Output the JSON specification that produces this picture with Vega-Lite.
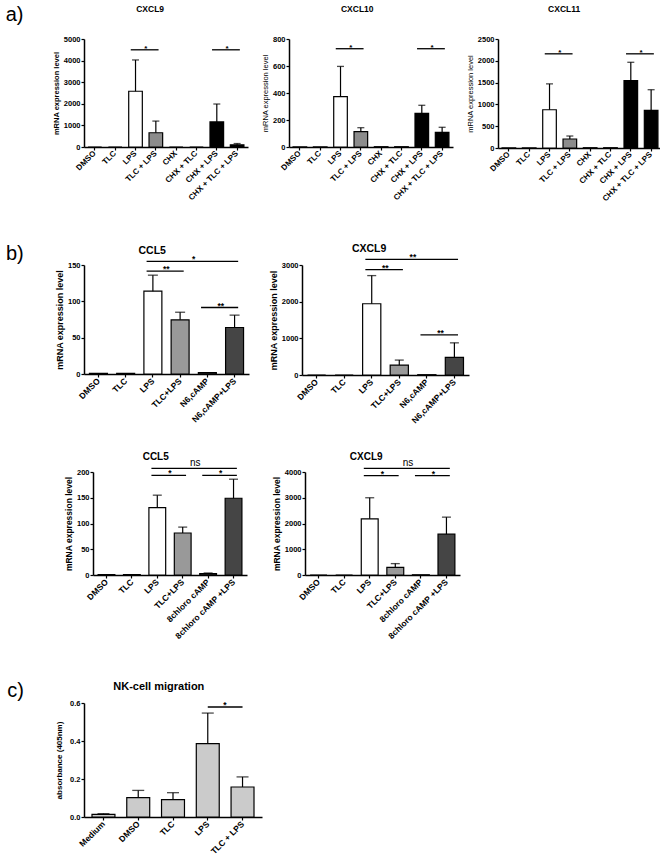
{
"$schema": "https://vega.github.io/schema/vega-lite/v6.json",
"padding": {"left": 5, "top": 4, "right": 2, "bottom": 2},
"background": "white",
"config": {
 "font": "Liberation Sans",
 "view": {"stroke": null},
 "title": {"color": "#000", "fontWeight": "bold", "font": "Liberation Sans"},
 "axis": {"grid": false, "domainColor": "#000", "domainWidth": 1.5, "tickColor": "#000", "tickWidth": 1.2, "tickSize": 3, "labelColor": "#000", "titleColor": "#000", "labelFontWeight": "bold", "titleFontWeight": "bold", "labelPadding": 1, "labelOverlap": false},
 "axisX": {"labelAngle": -45, "labelFontSize": 8, "labelOverlap": false, "labelAlign": "right", "labelBaseline": "middle", "labelPadding": 2},
 "axisY": {"labelFontSize": 7.5, "titleFontSize": 7.5, "titlePadding": 3, "format": "d", "labelOverlap": false, "labelSeparation": 0},
 "bar": {"stroke": "#000", "strokeWidth": 1.2},
 "rule": {"color": "#000", "strokeWidth": 1.2},
 "tick": {"color": "#000", "thickness": 1.3},
 "text": {"color": "#000"}
},
"datasets": {
 "a1": [
  {"cond": "DMSO", "mean": 0}, {"cond": "TLC", "mean": 0},
  {"cond": "LPS", "mean": 2580, "upper": 4030}, {"cond": "TLC + LPS", "mean": 660, "upper": 1200},
  {"cond": "CHX", "mean": 0}, {"cond": "CHX + TLC", "mean": 0},
  {"cond": "CHX + LPS", "mean": 1160, "upper": 1990}, {"cond": "CHX + TLC + LPS", "mean": 100, "upper": 160}],
 "a1s": [{"from": "LPS", "to": "TLC + LPS", "at": "LPS", "y": 4500, "label": "*"}, {"from": "CHX + LPS", "to": "CHX + TLC + LPS", "at": "CHX + LPS", "y": 4500, "label": "*"}],
 "a2": [
  {"cond": "DMSO", "mean": 2}, {"cond": "TLC", "mean": 2},
  {"cond": "LPS", "mean": 373, "upper": 597}, {"cond": "TLC + LPS", "mean": 114, "upper": 143},
  {"cond": "CHX", "mean": 2}, {"cond": "CHX + TLC", "mean": 2},
  {"cond": "CHX + LPS", "mean": 249, "upper": 309}, {"cond": "CHX + TLC + LPS", "mean": 109, "upper": 146}],
 "a2s": [{"from": "LPS", "to": "TLC + LPS", "at": "LPS", "y": 728, "label": "*"}, {"from": "CHX + LPS", "to": "CHX + TLC + LPS", "at": "CHX + LPS", "y": 728, "label": "*"}],
 "a3": [
  {"cond": "DMSO", "mean": 4}, {"cond": "TLC", "mean": 6},
  {"cond": "LPS", "mean": 877, "upper": 1471}, {"cond": "TLC + LPS", "mean": 206, "upper": 275},
  {"cond": "CHX", "mean": 6}, {"cond": "CHX + TLC", "mean": 6},
  {"cond": "CHX + LPS", "mean": 1544, "upper": 1966}, {"cond": "CHX + TLC + LPS", "mean": 865, "upper": 1337}],
 "a3s": [{"from": "LPS", "to": "TLC + LPS", "at": "LPS", "y": 2160, "label": "*"}, {"from": "CHX + LPS", "to": "CHX + TLC + LPS", "at": "CHX + LPS", "y": 2160, "label": "*"}],
 "b1": [
  {"cond": "DMSO", "mean": 1}, {"cond": "TLC", "mean": 1},
  {"cond": "LPS", "mean": 114, "upper": 136}, {"cond": "TLC+LPS", "mean": 74.5, "upper": 85},
  {"cond": "N6,cAMP", "mean": 1.8}, {"cond": "N6,cAMP+LPS", "mean": 64, "upper": 81}],
 "b1s": [{"from": "LPS", "to": "N6,cAMP+LPS", "at": "TLC+LPS", "y": 155, "label": "*"}, {"from": "LPS", "to": "TLC+LPS", "at": "LPS", "y": 141.5, "label": "**"}, {"from": "N6,cAMP", "to": "N6,cAMP+LPS", "at": "N6,cAMP", "y": 91.5, "label": "**"}],
 "b2": [
  {"cond": "DMSO", "mean": 0}, {"cond": "TLC", "mean": 0},
  {"cond": "LPS", "mean": 1943, "upper": 2711}, {"cond": "TLC+LPS", "mean": 271, "upper": 407},
  {"cond": "N6,cAMP", "mean": 8}, {"cond": "N6,cAMP+LPS", "mean": 479, "upper": 877}],
 "b2s": [{"from": "LPS", "to": "N6,cAMP+LPS", "at": "TLC+LPS", "y": 3155, "label": "**"}, {"from": "LPS", "to": "TLC+LPS", "at": "LPS", "y": 2873, "label": "**"}, {"from": "N6,cAMP", "to": "N6,cAMP+LPS", "at": "N6,cAMP", "y": 1093, "label": "**"}],
 "b3": [
  {"cond": "DMSO", "mean": 0.8}, {"cond": "TLC", "mean": 0.8},
  {"cond": "LPS", "mean": 131, "upper": 155}, {"cond": "TLC+LPS", "mean": 81.6, "upper": 93},
  {"cond": "8chloro cAMP", "mean": 2.6, "upper": 3.9}, {"cond": "8chloro cAMP +LPS", "mean": 149, "upper": 186}],
 "b3s": [{"from": "LPS", "to": "8chloro cAMP +LPS", "at": "TLC+LPS", "y": 207, "label": "ns"}, {"from": "LPS", "to": "TLC+LPS", "at": "LPS", "y": 193.5, "label": "*"}, {"from": "8chloro cAMP", "to": "8chloro cAMP +LPS", "at": "8chloro cAMP", "y": 193.5, "label": "*"}],
 "b4": [
  {"cond": "DMSO", "mean": 0}, {"cond": "TLC", "mean": 0},
  {"cond": "LPS", "mean": 2182, "upper": 3000}, {"cond": "TLC+LPS", "mean": 299, "upper": 442},
  {"cond": "8chloro cAMP", "mean": 8}, {"cond": "8chloro cAMP +LPS", "mean": 1584, "upper": 2247}],
 "b4s": [{"from": "LPS", "to": "8chloro cAMP +LPS", "at": "TLC+LPS", "y": 4143, "label": "ns"}, {"from": "LPS", "to": "TLC+LPS", "at": "LPS", "y": 3857, "label": "*"}, {"from": "8chloro cAMP", "to": "8chloro cAMP +LPS", "at": "8chloro cAMP", "y": 3857, "label": "*"}],
 "c": [
  {"cond": "Medium", "mean": 0.014, "upper": 0.0175}, {"cond": "DMSO", "mean": 0.102, "upper": 0.14},
  {"cond": "TLC", "mean": 0.091, "upper": 0.128}, {"cond": "LPS", "mean": 0.386, "upper": 0.547},
  {"cond": "TLC + LPS", "mean": 0.158, "upper": 0.211}],
 "cs": [{"from": "LPS", "to": "TLC + LPS", "at": "LPS", "y": 0.579, "label": "*"}]
},
"spacing": 40,
"resolve": {"scale": {"fill": "independent"}},
"vconcat": [
 {
  "title": {"text": "a)", "orient": "left", "anchor": "end", "angle": 0, "align": "right", "baseline": "top", "fontSize": 20, "fontWeight": "normal", "offset": 11},
  "spacing": 13,
  "resolve": {"scale": {"fill": "independent"}},
  "hconcat": [
   {
    "width": 164, "height": 108,
    "title": {"text": "CXCL9", "fontSize": 8.5, "offset": 22, "frame": "bounds"},
    "layer": [
     {"data": {"name": "a1"}, "mark": {"type": "bar"},
      "encoding": {
       "x": {"field": "cond", "type": "nominal", "title": null, "scale": {"domain": ["DMSO", "TLC", "LPS", "TLC + LPS", "CHX", "CHX + TLC", "CHX + LPS", "CHX + TLC + LPS"], "paddingInner": 0.33, "paddingOuter": 0.2}},
       "y": {"field": "mean", "type": "quantitative", "title": "mRNA expression level", "scale": {"domain": [0, 5000], "nice": false}, "axis": {"values": [0, 1000, 2000, 3000, 4000, 5000], "tickCount": 6, "labelOverlap": false, "format": "d"}},
       "fill": {"field": "cond", "type": "nominal", "legend": null, "scale": {"domain": ["DMSO", "TLC", "LPS", "TLC + LPS", "CHX", "CHX + TLC", "CHX + LPS", "CHX + TLC + LPS"], "range": ["#ffffff", "#ffffff", "#ffffff", "#8c8c8c", "#000000", "#000000", "#000000", "#000000"]}}}},
     {"data": {"name": "a1"}, "mark": {"type": "rule"},
      "encoding": {"x": {"field": "cond", "type": "nominal"}, "y": {"field": "mean", "type": "quantitative"}, "y2": {"field": "upper"}}},
     {"data": {"name": "a1"}, "mark": {"type": "tick", "size": 7},
      "encoding": {"x": {"field": "cond", "type": "nominal"}, "y": {"field": "upper", "type": "quantitative"}}},
     {"data": {"name": "a1s"}, "mark": {"type": "rule", "strokeWidth": 1.3},
      "encoding": {"x": {"field": "from", "type": "nominal", "bandPosition": 0.15}, "x2": {"field": "to", "bandPosition": 0.7}, "y": {"field": "y", "type": "quantitative"}}},
     {"data": {"name": "a1s"}, "mark": {"type": "text", "fontSize": 8, "fontWeight": "bold", "baseline": "alphabetic", "dy": 1},
      "encoding": {"x": {"field": "at", "type": "nominal", "bandPosition": 1.25}, "y": {"field": "y", "type": "quantitative"}, "text": {"field": "label"}}}
    ]
   },
   {
    "width": 164, "height": 108,
    "title": {"text": "CXCL10", "fontSize": 8.5, "offset": 22, "frame": "bounds"},
    "layer": [
     {"data": {"name": "a2"}, "mark": {"type": "bar"},
      "encoding": {
       "x": {"field": "cond", "type": "nominal", "title": null, "scale": {"domain": ["DMSO", "TLC", "LPS", "TLC + LPS", "CHX", "CHX + TLC", "CHX + LPS", "CHX + TLC + LPS"], "paddingInner": 0.33, "paddingOuter": 0.2}},
       "y": {"field": "mean", "type": "quantitative", "title": "mRNA expression level", "scale": {"domain": [0, 800], "nice": false}, "axis": {"values": [0, 200, 400, 600, 800], "tickCount": 5, "labelOverlap": false, "format": "d", "titleFontWeight": "normal"}},
       "fill": {"field": "cond", "type": "nominal", "legend": null, "scale": {"domain": ["DMSO", "TLC", "LPS", "TLC + LPS", "CHX", "CHX + TLC", "CHX + LPS", "CHX + TLC + LPS"], "range": ["#ffffff", "#ffffff", "#ffffff", "#8c8c8c", "#000000", "#000000", "#000000", "#000000"]}}}},
     {"data": {"name": "a2"}, "mark": {"type": "rule"},
      "encoding": {"x": {"field": "cond", "type": "nominal"}, "y": {"field": "mean", "type": "quantitative"}, "y2": {"field": "upper"}}},
     {"data": {"name": "a2"}, "mark": {"type": "tick", "size": 7},
      "encoding": {"x": {"field": "cond", "type": "nominal"}, "y": {"field": "upper", "type": "quantitative"}}},
     {"data": {"name": "a2s"}, "mark": {"type": "rule", "strokeWidth": 1.3},
      "encoding": {"x": {"field": "from", "type": "nominal", "bandPosition": 0.15}, "x2": {"field": "to", "bandPosition": 0.7}, "y": {"field": "y", "type": "quantitative"}}},
     {"data": {"name": "a2s"}, "mark": {"type": "text", "fontSize": 8, "fontWeight": "bold", "baseline": "alphabetic", "dy": 1},
      "encoding": {"x": {"field": "at", "type": "nominal", "bandPosition": 1.25}, "y": {"field": "y", "type": "quantitative"}, "text": {"field": "label"}}}
    ]
   },
   {
    "width": 164, "height": 109,
    "title": {"text": "CXCL11", "fontSize": 8.5, "offset": 22, "frame": "bounds"},
    "layer": [
     {"data": {"name": "a3"}, "mark": {"type": "bar"},
      "encoding": {
       "x": {"field": "cond", "type": "nominal", "title": null, "scale": {"domain": ["DMSO", "TLC", "LPS", "TLC + LPS", "CHX", "CHX + TLC", "CHX + LPS", "CHX + TLC + LPS"], "paddingInner": 0.33, "paddingOuter": 0.2}},
       "y": {"field": "mean", "type": "quantitative", "title": "mRNA expression level", "scale": {"domain": [0, 2500], "nice": false}, "axis": {"values": [0, 500, 1000, 1500, 2000, 2500], "tickCount": 6, "labelOverlap": false, "format": "d", "titleFontWeight": "normal"}},
       "fill": {"field": "cond", "type": "nominal", "legend": null, "scale": {"domain": ["DMSO", "TLC", "LPS", "TLC + LPS", "CHX", "CHX + TLC", "CHX + LPS", "CHX + TLC + LPS"], "range": ["#ffffff", "#ffffff", "#ffffff", "#8c8c8c", "#000000", "#000000", "#000000", "#000000"]}}}},
     {"data": {"name": "a3"}, "mark": {"type": "rule"},
      "encoding": {"x": {"field": "cond", "type": "nominal"}, "y": {"field": "mean", "type": "quantitative"}, "y2": {"field": "upper"}}},
     {"data": {"name": "a3"}, "mark": {"type": "tick", "size": 7},
      "encoding": {"x": {"field": "cond", "type": "nominal"}, "y": {"field": "upper", "type": "quantitative"}}},
     {"data": {"name": "a3s"}, "mark": {"type": "rule", "strokeWidth": 1.3},
      "encoding": {"x": {"field": "from", "type": "nominal", "bandPosition": 0.15}, "x2": {"field": "to", "bandPosition": 0.7}, "y": {"field": "y", "type": "quantitative"}}},
     {"data": {"name": "a3s"}, "mark": {"type": "text", "fontSize": 8, "fontWeight": "bold", "baseline": "alphabetic", "dy": 1},
      "encoding": {"x": {"field": "at", "type": "nominal", "bandPosition": 1.25}, "y": {"field": "y", "type": "quantitative"}, "text": {"field": "label"}}}
    ]
   }
  ]
 },
 {
  "title": {"text": "b)", "orient": "left", "anchor": "end", "angle": 0, "align": "right", "baseline": "top", "fontSize": 20, "fontWeight": "normal", "offset": 14},
  "spacing": 27,
  "center": true,
  "resolve": {"scale": {"fill": "independent"}},
  "vconcat": [
   {
    "spacing": 20,
    "resolve": {"scale": {"fill": "independent"}},
    "hconcat": [
     {
      "width": 165, "height": 109,
      "title": {"text": "CCL5", "fontSize": 10.5, "offset": -1, "frame": "bounds"},
      "layer": [
       {"data": {"name": "b1"}, "mark": {"type": "bar"},
        "encoding": {
         "x": {"field": "cond", "type": "nominal", "title": null, "scale": {"domain": ["DMSO", "TLC", "LPS", "TLC+LPS", "N6,cAMP", "N6,cAMP+LPS"], "paddingInner": 0.34, "paddingOuter": 0.2}, "axis": {"labelFontSize": 8.5}},
         "y": {"field": "mean", "type": "quantitative", "title": "mRNA expression level", "scale": {"domain": [0, 150], "nice": false}, "axis": {"values": [0, 50, 100, 150], "tickCount": 4, "labelOverlap": false, "format": "d", "titleFontSize": 9}},
         "fill": {"field": "cond", "type": "nominal", "legend": null, "scale": {"domain": ["DMSO", "TLC", "LPS", "TLC+LPS", "N6,cAMP", "N6,cAMP+LPS"], "range": ["#ffffff", "#ffffff", "#ffffff", "#999999", "#454545", "#454545"]}}}},
       {"data": {"name": "b1"}, "mark": {"type": "rule"},
        "encoding": {"x": {"field": "cond", "type": "nominal"}, "y": {"field": "mean", "type": "quantitative"}, "y2": {"field": "upper"}}},
       {"data": {"name": "b1"}, "mark": {"type": "tick", "size": 10},
        "encoding": {"x": {"field": "cond", "type": "nominal"}, "y": {"field": "upper", "type": "quantitative"}}},
       {"data": {"name": "b1s"}, "mark": {"type": "rule", "strokeWidth": 1.3},
        "encoding": {"x": {"field": "from", "type": "nominal", "bandPosition": 0.15}, "x2": {"field": "to", "bandPosition": 0.7}, "y": {"field": "y", "type": "quantitative"}}},
       {"data": {"name": "b1s"}, "mark": {"type": "text", "fontSize": 8.5, "fontWeight": "bold", "baseline": "alphabetic", "dy": 1},
        "encoding": {"x": {"field": "at", "type": "nominal", "bandPosition": 1.25}, "y": {"field": "y", "type": "quantitative"}, "text": {"field": "label"}}}
      ]
     },
     {
      "width": 167, "height": 110,
      "title": {"text": "CXCL9", "fontSize": 10.5, "offset": -1, "frame": "bounds"},
      "layer": [
       {"data": {"name": "b2"}, "mark": {"type": "bar"},
        "encoding": {
         "x": {"field": "cond", "type": "nominal", "title": null, "scale": {"domain": ["DMSO", "TLC", "LPS", "TLC+LPS", "N6,cAMP", "N6,cAMP+LPS"], "paddingInner": 0.34, "paddingOuter": 0.2}, "axis": {"labelFontSize": 8.5}},
         "y": {"field": "mean", "type": "quantitative", "title": "mRNA expression level", "scale": {"domain": [0, 3000], "nice": false}, "axis": {"values": [0, 1000, 2000, 3000], "tickCount": 4, "labelOverlap": false, "format": "d", "titleFontSize": 9}},
         "fill": {"field": "cond", "type": "nominal", "legend": null, "scale": {"domain": ["DMSO", "TLC", "LPS", "TLC+LPS", "N6,cAMP", "N6,cAMP+LPS"], "range": ["#ffffff", "#ffffff", "#ffffff", "#999999", "#454545", "#454545"]}}}},
       {"data": {"name": "b2"}, "mark": {"type": "rule"},
        "encoding": {"x": {"field": "cond", "type": "nominal"}, "y": {"field": "mean", "type": "quantitative"}, "y2": {"field": "upper"}}},
       {"data": {"name": "b2"}, "mark": {"type": "tick", "size": 9},
        "encoding": {"x": {"field": "cond", "type": "nominal"}, "y": {"field": "upper", "type": "quantitative"}}},
       {"data": {"name": "b2s"}, "mark": {"type": "rule", "strokeWidth": 1.3},
        "encoding": {"x": {"field": "from", "type": "nominal", "bandPosition": 0.15}, "x2": {"field": "to", "bandPosition": 0.7}, "y": {"field": "y", "type": "quantitative"}}},
       {"data": {"name": "b2s"}, "mark": {"type": "text", "fontSize": 8.5, "fontWeight": "bold", "baseline": "alphabetic", "dy": 1},
        "encoding": {"x": {"field": "at", "type": "nominal", "bandPosition": 1.25}, "y": {"field": "y", "type": "quantitative"}, "text": {"field": "label"}}}
      ]
     }
    ]
   },
   {
    "spacing": 25,
    "resolve": {"scale": {"fill": "independent"}},
    "hconcat": [
     {
      "width": 154, "height": 103,
      "title": {"text": "CCL5", "fontSize": 10, "offset": -4, "frame": "bounds"},
      "layer": [
       {"data": {"name": "b3"}, "mark": {"type": "bar"},
        "encoding": {
         "x": {"field": "cond", "type": "nominal", "title": null, "scale": {"domain": ["DMSO", "TLC", "LPS", "TLC+LPS", "8chloro cAMP", "8chloro cAMP +LPS"], "paddingInner": 0.34, "paddingOuter": 0.2}, "axis": {"labelFontSize": 8.5}},
         "y": {"field": "mean", "type": "quantitative", "title": "mRNA expression level", "scale": {"domain": [0, 200], "nice": false}, "axis": {"values": [0, 50, 100, 150, 200], "tickCount": 5, "labelOverlap": false, "format": "d", "titleFontSize": 8.5}},
         "fill": {"field": "cond", "type": "nominal", "legend": null, "scale": {"domain": ["DMSO", "TLC", "LPS", "TLC+LPS", "8chloro cAMP", "8chloro cAMP +LPS"], "range": ["#ffffff", "#ffffff", "#ffffff", "#999999", "#454545", "#454545"]}}}},
       {"data": {"name": "b3"}, "mark": {"type": "rule"},
        "encoding": {"x": {"field": "cond", "type": "nominal"}, "y": {"field": "mean", "type": "quantitative"}, "y2": {"field": "upper"}}},
       {"data": {"name": "b3"}, "mark": {"type": "tick", "size": 9},
        "encoding": {"x": {"field": "cond", "type": "nominal"}, "y": {"field": "upper", "type": "quantitative"}}},
       {"data": {"name": "b3s"}, "mark": {"type": "rule", "strokeWidth": 1.3},
        "encoding": {"x": {"field": "from", "type": "nominal", "bandPosition": 0.15}, "x2": {"field": "to", "bandPosition": 0.7}, "y": {"field": "y", "type": "quantitative"}}},
       {"data": {"name": "b3s"}, "transform": [{"filter": "datum.label != 'ns'"}], "mark": {"type": "text", "fontSize": 8.5, "fontWeight": "bold", "baseline": "alphabetic", "dy": 1},
        "encoding": {"x": {"field": "at", "type": "nominal", "bandPosition": 1.25}, "y": {"field": "y", "type": "quantitative"}, "text": {"field": "label"}}},
       {"data": {"name": "b3s"}, "transform": [{"filter": "datum.label == 'ns'"}], "mark": {"type": "text", "fontSize": 10, "baseline": "alphabetic", "dy": -2},
        "encoding": {"x": {"field": "at", "type": "nominal", "bandPosition": 1.25}, "y": {"field": "y", "type": "quantitative"}, "text": {"field": "label"}}}
      ]
     },
     {
      "width": 155, "height": 103,
      "title": {"text": "CXCL9", "fontSize": 10, "offset": -4, "frame": "bounds"},
      "layer": [
       {"data": {"name": "b4"}, "mark": {"type": "bar"},
        "encoding": {
         "x": {"field": "cond", "type": "nominal", "title": null, "scale": {"domain": ["DMSO", "TLC", "LPS", "TLC+LPS", "8chloro cAMP", "8chloro cAMP +LPS"], "paddingInner": 0.34, "paddingOuter": 0.2}, "axis": {"labelFontSize": 8.5}},
         "y": {"field": "mean", "type": "quantitative", "title": "mRNA expression level", "scale": {"domain": [0, 4000], "nice": false}, "axis": {"values": [0, 1000, 2000, 3000, 4000], "tickCount": 5, "labelOverlap": false, "format": "d", "titleFontSize": 8.5}},
         "fill": {"field": "cond", "type": "nominal", "legend": null, "scale": {"domain": ["DMSO", "TLC", "LPS", "TLC+LPS", "8chloro cAMP", "8chloro cAMP +LPS"], "range": ["#ffffff", "#ffffff", "#ffffff", "#999999", "#454545", "#454545"]}}}},
       {"data": {"name": "b4"}, "mark": {"type": "rule"},
        "encoding": {"x": {"field": "cond", "type": "nominal"}, "y": {"field": "mean", "type": "quantitative"}, "y2": {"field": "upper"}}},
       {"data": {"name": "b4"}, "mark": {"type": "tick", "size": 9},
        "encoding": {"x": {"field": "cond", "type": "nominal"}, "y": {"field": "upper", "type": "quantitative"}}},
       {"data": {"name": "b4s"}, "mark": {"type": "rule", "strokeWidth": 1.3},
        "encoding": {"x": {"field": "from", "type": "nominal", "bandPosition": 0.15}, "x2": {"field": "to", "bandPosition": 0.7}, "y": {"field": "y", "type": "quantitative"}}},
       {"data": {"name": "b4s"}, "transform": [{"filter": "datum.label != 'ns'"}], "mark": {"type": "text", "fontSize": 8.5, "fontWeight": "bold", "baseline": "alphabetic", "dy": 1},
        "encoding": {"x": {"field": "at", "type": "nominal", "bandPosition": 1.25}, "y": {"field": "y", "type": "quantitative"}, "text": {"field": "label"}}},
       {"data": {"name": "b4s"}, "transform": [{"filter": "datum.label == 'ns'"}], "mark": {"type": "text", "fontSize": 10, "baseline": "alphabetic", "dy": -2},
        "encoding": {"x": {"field": "at", "type": "nominal", "bandPosition": 1.25}, "y": {"field": "y", "type": "quantitative"}, "text": {"field": "label"}}}
      ]
     }
    ]
   }
  ]
 },
 {
  "title": {"text": "c)", "orient": "left", "anchor": "end", "angle": 0, "align": "right", "baseline": "top", "fontSize": 20, "fontWeight": "normal", "offset": 15},
  "resolve": {"scale": {"fill": "independent"}},
  "hconcat": [
   {
    "width": 178, "height": 114,
    "title": {"text": "NK-cell migration", "fontSize": 11, "offset": 7, "frame": "bounds"},
    "layer": [
     {"data": {"name": "c"}, "mark": {"type": "bar"},
      "encoding": {
       "x": {"field": "cond", "type": "nominal", "title": null, "scale": {"domain": ["Medium", "DMSO", "TLC", "LPS", "TLC + LPS"], "paddingInner": 0.34, "paddingOuter": 0.23}, "axis": {"labelFontSize": 8.5}},
       "y": {"field": "mean", "type": "quantitative", "title": "absorbance (405nm)", "scale": {"domain": [0, 0.6], "nice": false}, "axis": {"values": [0, 0.2, 0.4, 0.6], "tickCount": 4, "labelOverlap": false, "format": ".1f", "titleFontSize": 8, "labelFontSize": 7.5, "titlePadding": 6}},
       "fill": {"value": "#cbcbcb"}}},
     {"data": {"name": "c"}, "mark": {"type": "rule"},
      "encoding": {"x": {"field": "cond", "type": "nominal"}, "y": {"field": "mean", "type": "quantitative"}, "y2": {"field": "upper"}}},
     {"data": {"name": "c"}, "mark": {"type": "tick", "size": 12},
      "encoding": {"x": {"field": "cond", "type": "nominal"}, "y": {"field": "upper", "type": "quantitative"}}},
     {"data": {"name": "cs"}, "mark": {"type": "rule", "strokeWidth": 1.3},
      "encoding": {"x": {"field": "from", "type": "nominal"}, "x2": {"field": "to"}, "y": {"field": "y", "type": "quantitative"}}},
     {"data": {"name": "cs"}, "mark": {"type": "text", "fontSize": 8.5, "fontWeight": "bold", "baseline": "alphabetic", "dy": 1},
      "encoding": {"x": {"field": "at", "type": "nominal", "bandPosition": 1.25}, "y": {"field": "y", "type": "quantitative"}, "text": {"field": "label"}}}
    ]
   }
  ]
 }
]
}
